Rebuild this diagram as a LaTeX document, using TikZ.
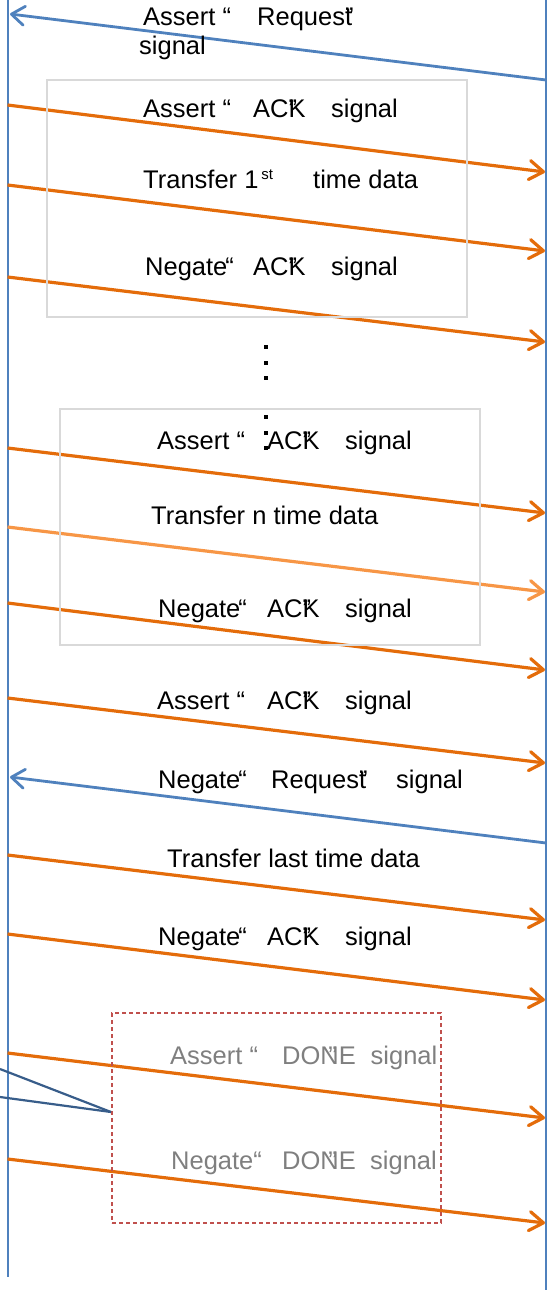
\documentclass[tikz,border=0pt]{standalone}
\usepackage{fontspec}
\setmainfont{Liberation Sans}
\usetikzlibrary{arrows.meta}
\definecolor{lifeblue}{HTML}{4F81BD}
\definecolor{sigorange}{HTML}{E46C0A}
\definecolor{lightorange}{HTML}{F79646}
\definecolor{boxgray}{HTML}{D9D9D9}
\definecolor{donered}{HTML}{C0504D}
\definecolor{calloutblue}{HTML}{385D8A}
\definecolor{textgray}{HTML}{7F7F7F}
\begin{document}
\begin{tikzpicture}[x=1pt,y=-1pt,
  lbl/.style={anchor=base west, inner sep=0pt, font=\fontsize{25.5}{30}\selectfont, text=black},
  graylbl/.style={lbl, text=textgray},
  lifeline/.style={draw=lifeblue, line width=2pt},
  sig/.style={draw=sigorange, line width=3.2pt, -{Straight Barb[length=14pt,width=19pt,round]}},
  lightsig/.style={sig, draw=lightorange},
  req/.style={draw=lifeblue, line width=2.8pt, -{Straight Barb[length=13pt,width=19pt,round]}},
  grouped/.style={draw=boxgray, line width=2pt, inner sep=0pt},
  donegroup/.style={draw=donered, line width=1.8pt, dash pattern=on 4pt off 3pt, inner sep=0pt},
  callout/.style={draw=calloutblue, line width=2.2pt},
  dot/.style={fill=black, draw=none, minimum size=4pt, inner sep=0pt}
]
\useasboundingbox (0,0) rectangle (547,1290);

% lifelines
\coordinate (LT) at (7.5,0);
\coordinate (LB) at (7.5,1277);
\coordinate (RT) at (546,0);
\coordinate (RB) at (546,1290);
\draw[lifeline] (LT) -- (LB);
\draw[lifeline] (RT) -- (RB);

% message end points
\coordinate (r1) at (546,80);   \coordinate (l1) at (10,14);
\coordinate (l2) at (7.5,105);  \coordinate (r2) at (545,172);
\coordinate (l3) at (7.5,185);  \coordinate (r3) at (545,251);
\coordinate (l4) at (7.5,277);  \coordinate (r4) at (545,342);
\coordinate (l5) at (7.5,448);  \coordinate (r5) at (545,513);
\coordinate (l6) at (7.5,527);  \coordinate (r6) at (545,592);
\coordinate (l7) at (7.5,603);  \coordinate (r7) at (545,670);
\coordinate (l8) at (7.5,698);  \coordinate (r8) at (545,763);
\coordinate (r9) at (546,843);  \coordinate (l9) at (10,777);
\coordinate (l10) at (7.5,855); \coordinate (r10) at (545,920);
\coordinate (l11) at (7.5,934); \coordinate (r11) at (545,1000);
\coordinate (l12) at (7.5,1053);\coordinate (r12) at (545,1118);
\coordinate (l13) at (7.5,1159);\coordinate (r13) at (545,1223);

\draw[req] (r1) -- (l1);
\draw[sig] (l2) -- (r2);
\draw[sig] (l3) -- (r3);
\draw[sig] (l4) -- (r4);
\draw[sig] (l5) -- (r5);
\draw[lightsig] (l6) -- (r6);
\draw[sig] (l7) -- (r7);
\draw[sig] (l8) -- (r8);
\draw[req] (r9) -- (l9);
\draw[sig] (l10) -- (r10);
\draw[sig] (l11) -- (r11);
\draw[sig] (l12) -- (r12);
\draw[sig] (l13) -- (r13);

% group boxes
\node[grouped, minimum width=420pt, minimum height=237pt] (box1) at (257,198.5) {};
\node[grouped, minimum width=420pt, minimum height=236pt] (box2) at (270,527) {};
\node[donegroup, minimum width=329pt, minimum height=210pt] (box3) at (276.5,1118) {};

% callout lines
\coordinate (c1) at (0,1069);
\coordinate (c2) at (0,1097);
\coordinate (ctip) at (111,1112);
\draw[callout] (c1) -- (ctip);
\draw[callout] (c2) -- (ctip);

% labels
\node[lbl] (t1a) at (143,26) {\makebox[114pt][l]{Assert “}Reques\rlap{”}t};
\node[lbl] (t1b) at (139,55) {signal};
\node[lbl] (t2) at (143,117) {\makebox[110pt][l]{Assert “}\makebox[78pt][l]{AC\rlap{”}K}signal};
\node[lbl] (t3) at (143,188) {\makebox[170pt][l]{Transfer 1\kern3pt\raisebox{9pt}{\fontsize{15}{15}\selectfont st}}time data};
\node[lbl] (t4) at (145,275) {\makebox[108pt][l]{Negate\kern-2pt“}\makebox[78pt][l]{AC\rlap{”}K}signal};
\node[lbl] (t5) at (157,449) {\makebox[110pt][l]{Assert “}\makebox[78pt][l]{AC\rlap{”}K}signal};
\node[lbl] (t6) at (151,524) {Transfer n time data};
\node[lbl] (t7) at (158,617) {\makebox[109pt][l]{Negate\kern-2pt“}\makebox[78pt][l]{AC\rlap{”}K}signal};
\node[lbl] (t8) at (157,709) {\makebox[110pt][l]{Assert “}\makebox[78pt][l]{AC\rlap{”}K}signal};
\node[lbl] (t9) at (158,788) {\makebox[113pt][l]{Negate\kern-2pt“}\makebox[125pt][l]{Reques\rlap{”}t}signal};
\node[lbl] (t10) at (167,867) {Transfer last time data};
\node[lbl] (t11) at (158,945) {\makebox[109pt][l]{Negate\kern-2pt“}\makebox[78pt][l]{AC\rlap{”}K}signal};
\node[graylbl] (t12) at (170,1064) {\makebox[112pt][l]{Assert “}\makebox[88.5pt][l]{DON\llap{”\kern2pt}E}signal};
\node[graylbl] (t13) at (171,1169) {\makebox[111pt][l]{Negate“}\makebox[88pt][l]{DON\llap{”\kern2pt}E}signal};

% vertical ellipsis
\node[dot] (d1) at (266,347) {};
\node[dot] (d2) at (266,363) {};
\node[dot] (d3) at (266,378) {};
\node[dot] (d4) at (266,417) {};
\node[dot] (d5) at (266,433) {};
\node[dot] (d6) at (266,448) {};
\end{tikzpicture}
\end{document}
